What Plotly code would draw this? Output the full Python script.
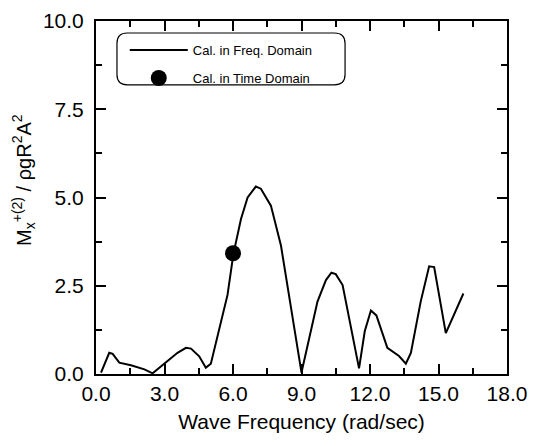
import plotly.graph_objects as go

# Frequency-domain curve (rad/sec, nondimensional moment)
freq = [0.22, 0.58, 0.73, 1.02, 1.53, 2.12, 2.48, 2.99, 3.57, 3.94, 4.16, 4.52, 4.81, 5.03,
        5.47, 5.76, 6.02, 6.35, 6.64, 7.0, 7.22, 7.66, 8.1, 8.53, 9.0,
        9.7, 10.07, 10.31, 10.5, 10.8, 11.16, 11.52, 11.77, 12.04, 12.28, 12.76, 13.27,
        13.57, 13.79, 14.22, 14.59, 14.81, 15.32, 16.09]
moment = [0.04, 0.6, 0.57, 0.32, 0.25, 0.13, 0.02, 0.29, 0.6, 0.74, 0.72, 0.5, 0.18, 0.29,
          1.49, 2.24, 3.41, 4.39, 5.0, 5.31, 5.25, 4.77, 3.64, 1.96, 0.04,
          2.05, 2.66, 2.87, 2.83, 2.52, 1.3, 0.16, 1.21, 1.8, 1.66, 0.74, 0.51,
          0.29, 0.6, 2.05, 3.05, 3.03, 1.16, 2.28]

# Time-domain point
time_freq = [6.0]
time_moment = [3.42]

xticks = [0, 3, 6, 9, 12, 15, 18]
xticklabels = ["0.0", "3.0", "6.0", "9.0", "12.0", "15.0", "18.0"]
yticks = [0, 2.5, 5, 7.5, 10]
yticklabels = ["0.0", "2.5", "5.0", "7.5", "10.0"]

font = "Liberation Sans, Arial, sans-serif"

fig = go.Figure()
fig.add_trace(go.Scatter(x=freq, y=moment, mode="lines", name="Cal. in Freq. Domain",
                         legendgroup="a", line=dict(color="black", width=2)))
fig.add_trace(go.Scatter(x=time_freq, y=time_moment, mode="markers", name="Cal. in Time Domain",
                         legendgroup="b", marker=dict(color="black", size=16)))

axis_common = dict(showline=True, linecolor="black", linewidth=2, mirror="ticks",
                   ticks="inside", ticklen=10, tickwidth=2, tickcolor="black",
                   showgrid=False, zeroline=False, automargin=False,
                   ticklabeloverflow="allow",
                   tickfont=dict(family=font, size=21, color="black"))

fig.update_xaxes(range=[0, 18], tickvals=xticks, ticktext=xticklabels,
                 minor=dict(dtick=1.5, ticks="inside", ticklen=6, tickwidth=1.5, tickcolor="black"),
                 title=dict(text="Wave Frequency (rad/sec)", font=dict(family=font, size=21, color="black"),
                            standoff=10),
                 **axis_common)
fig.update_yaxes(range=[0, 10], tickvals=yticks, ticktext=yticklabels, ticklabelstandoff=6,
                 minor=dict(dtick=1.25, ticks="inside", ticklen=6, tickwidth=1.5, tickcolor="black"),
                 **axis_common)

fig.add_annotation(xref="paper", yref="paper", x=-0.175, y=0.55, xanchor="center", yanchor="middle",
                   textangle=-90, showarrow=False,
                   text="M<sub>x</sub><sup>+(2)</sup> / ρgR<sup>2</sup>A<sup>2</sup>",
                   font=dict(family=font, size=20, color="black"))

fig.add_shape(type="path", xref="paper", yref="paper",
              path="M 0.076 0.966 L 0.58 0.966 Q 0.606 0.966 0.606 0.936 L 0.606 0.849 Q 0.606 0.819 0.58 0.819 "
                   "L 0.076 0.819 Q 0.051 0.819 0.051 0.849 L 0.051 0.936 Q 0.051 0.966 0.076 0.966 Z",
              line=dict(color="black", width=1.2))

fig.update_layout(
    width=531, height=438,
    margin=dict(l=88, r=32, t=13, b=72),
    paper_bgcolor="white", plot_bgcolor="white",
    showlegend=True,
    legend=dict(x=0.07, y=0.96, xanchor="left", yanchor="top", bgcolor="rgba(0,0,0,0)",
                borderwidth=0, itemwidth=58, tracegroupgap=8,
                font=dict(family=font, size=13, color="black")),
)

fig.write_html("out.html")
